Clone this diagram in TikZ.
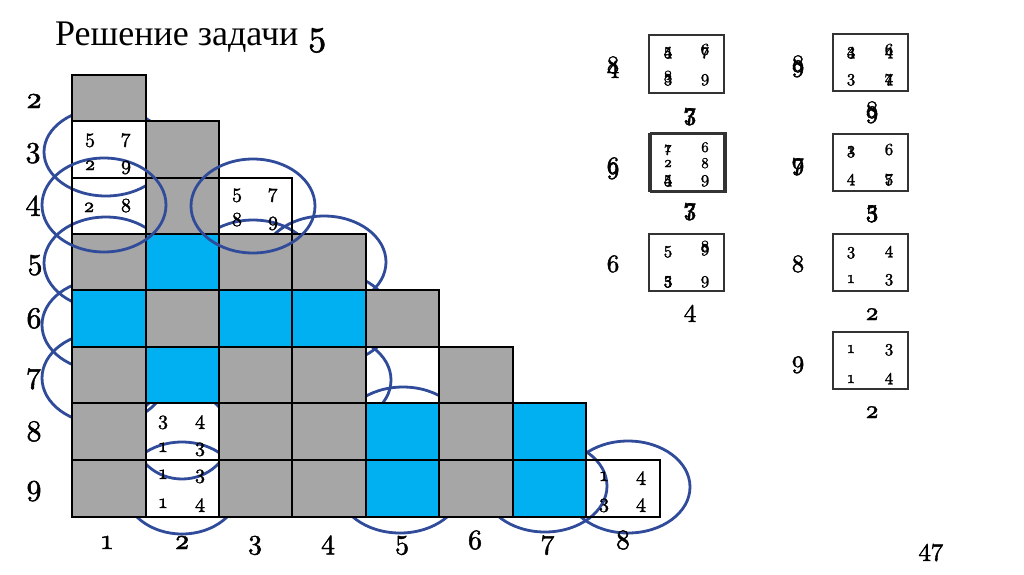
\documentclass[tikz,border=0pt]{standalone}
\usepackage{fontspec}
\setmainfont{Liberation Serif}
\newfontfamily\osf{lmroman10-regular.otf}[Numbers=OldStyle,FakeBold=1.6,AutoFakeBold=1.6]
\definecolor{cgray}{HTML}{A6A6A6}
\definecolor{cblue}{HTML}{00B0F0}
\definecolor{cring}{HTML}{2F4B9A}
\definecolor{cbox}{HTML}{333333}
\newcommand\ovl[2]{\makebox[0pt]{#1}\makebox[0pt]{#2}}
\tikzset{
  gfill/.style={fill=cgray},
  bfill/.style={fill=cblue},
  cellline/.style={draw=black,line width=1.3pt},
  ring/.style={draw=cring,line width=2.8pt},
  cd/.style={font=\osf\bfseries\fontsize{20pt}{20pt}\selectfont,anchor=base,inner sep=0pt},
  bd/.style={font=\osf\fontsize{17pt}{17pt}\selectfont,anchor=base,inner sep=0pt},
  bds/.style={font=\osf\fontsize{15pt}{15pt}\selectfont,anchor=base,inner sep=0pt},
  lab/.style={font=\osf\bfseries\fontsize{30pt}{30pt}\selectfont,anchor=base,inner sep=0pt},
  clab/.style={font=\osf\bfseries\fontsize{28pt}{28pt}\selectfont,anchor=base,inner sep=0pt},
  blab/.style={font=\osf\bfseries\fontsize{25pt}{25pt}\selectfont,anchor=base,inner sep=0pt},
  boxline/.style={draw=cbox,line width=1.4pt},
}
\begin{document}
\begin{tikzpicture}[x=1pt,y=-1pt]
\useasboundingbox (0,0) rectangle (1024,574);
\fill[white] (0,0) rectangle (1024,574);

% title
\node[anchor=base west,inner sep=0pt,font=\fontsize{36pt}{36pt}\selectfont] (title) at (55,45) {Решение задачи {\osf 5}};

% rings behind the cells
\draw[ring] (106,152) ellipse [x radius=62pt, y radius=44pt];
\draw[ring] (106,263) ellipse [x radius=62pt, y radius=46pt];
\draw[ring] (104,325) ellipse [x radius=62pt, y radius=46pt];
\draw[ring] (104,378) ellipse [x radius=62pt, y radius=46pt];
\draw[ring] (253,266) ellipse [x radius=62pt, y radius=46pt];
\draw[ring] (324,262) ellipse [x radius=62pt, y radius=46pt];
\draw[ring] (329,318) ellipse [x radius=62pt, y radius=46pt];
\draw[ring] (329,380) ellipse [x radius=62pt, y radius=46pt];
\draw[ring] (403,433) ellipse [x radius=62pt, y radius=46pt];
\draw[ring] (400,487) ellipse [x radius=62pt, y radius=46pt];
\draw[ring] (545,486) ellipse [x radius=62pt, y radius=46pt];
\draw[ring] (628,487) ellipse [x radius=62pt, y radius=46pt];
\draw[ring] (182,435) ellipse [x radius=48pt, y radius=44pt];
\draw[ring] (182,488) ellipse [x radius=58pt, y radius=46pt];

% cell fills
\fill[gfill] (72,75) rectangle (146,121);
\fill[gfill] (146,121) rectangle (219,178);
\fill[gfill] (146,178) rectangle (219,234);
\fill[gfill] (72,234) rectangle (146,290);
\fill[bfill] (146,234) rectangle (219,290);
\fill[gfill] (219,234) rectangle (292,290);
\fill[gfill] (292,234) rectangle (366,290);
\fill[bfill] (72,290) rectangle (146,347);
\fill[gfill] (146,290) rectangle (219,347);
\fill[bfill] (219,290) rectangle (292,347);
\fill[bfill] (292,290) rectangle (366,347);
\fill[gfill] (366,290) rectangle (439,347);
\fill[gfill] (72,347) rectangle (146,403);
\fill[bfill] (146,347) rectangle (219,403);
\fill[gfill] (219,347) rectangle (292,403);
\fill[gfill] (292,347) rectangle (366,403);
\fill[gfill] (439,347) rectangle (513,403);
\fill[gfill] (72,403) rectangle (146,460);
\fill[gfill] (219,403) rectangle (292,460);
\fill[gfill] (292,403) rectangle (366,460);
\fill[bfill] (366,403) rectangle (439,460);
\fill[gfill] (439,403) rectangle (513,460);
\fill[bfill] (513,403) rectangle (586,460);
\fill[gfill] (72,460) rectangle (146,517);
\fill[gfill] (219,460) rectangle (292,517);
\fill[gfill] (292,460) rectangle (366,517);
\fill[bfill] (366,460) rectangle (439,517);
\fill[gfill] (439,460) rectangle (513,517);
\fill[bfill] (513,460) rectangle (586,517);

% cell outlines
\draw[cellline] (72,75) rectangle (146,121);
\foreach \xa/\xb in {72/146,146/219} \draw[cellline] (\xa,121) rectangle (\xb,178);
\foreach \xa/\xb in {72/146,146/219,219/292} \draw[cellline] (\xa,178) rectangle (\xb,234);
\foreach \xa/\xb in {72/146,146/219,219/292,292/366} \draw[cellline] (\xa,234) rectangle (\xb,290);
\foreach \xa/\xb in {72/146,146/219,219/292,292/366,366/439} \draw[cellline] (\xa,290) rectangle (\xb,347);
\foreach \xa/\xb in {72/146,146/219,219/292,292/366,366/439,439/513} \draw[cellline] (\xa,347) rectangle (\xb,403);
\foreach \xa/\xb in {72/146,146/219,219/292,292/366,366/439,439/513,513/586} \draw[cellline] (\xa,403) rectangle (\xb,460);
\foreach \xa/\xb in {72/146,146/219,219/292,292/366,366/439,439/513,513/586,586/660} \draw[cellline] (\xa,460) rectangle (\xb,517);
\draw[black,line width=2.2pt] (72,517) -- (660,517);

% rings on top
\draw[ring] (104,205) ellipse [x radius=62pt, y radius=47pt];
\draw[ring] (253,206) ellipse [x radius=62pt, y radius=47pt];

% digits in cells
\node[cd] (a1) at (90,143) {5};  \node[cd] (a2) at (126,143) {7};
\node[cd] (a3) at (90,170) {2};  \node[cd] (a4) at (126,170) {9};
\node[cd] (b1) at (89,212) {2};  \node[cd] (b2) at (126,212) {8};
\node[cd] (c1) at (237,198) {5}; \node[cd] (c2) at (273,198) {7};
\node[cd] (c3) at (237,226) {8}; \node[cd] (c4) at (273,226) {9};
\node[cd] (d1) at (163,425) {3}; \node[cd] (d2) at (200,425) {4};
\node[cd] (d3) at (163,452) {1}; \node[cd] (d4) at (200,452) {3};
\node[cd] (e1) at (163,479) {1}; \node[cd] (e2) at (200,479) {3};
\node[cd] (e3) at (163,508) {1}; \node[cd] (e4) at (200,508) {4};
\node[cd] (f1) at (604,481) {1}; \node[cd] (f2) at (641,481) {4};
\node[cd] (f3) at (604,508) {3}; \node[cd] (f4) at (641,508) {4};

% row labels
\node[lab] (r2) at (34,108) {2};
\node[lab] (r3) at (33,157) {3};
\node[lab] (r4) at (33,210) {4};
\node[lab] (r5) at (35,269) {5};
\node[lab] (r6) at (34,328) {6};
\node[lab] (r7) at (34,383) {7};
\node[lab] (r8) at (34,441) {8};
\node[lab] (r9) at (34,495) {9};

% column labels
\node[clab] (k1) at (107,549) {1};
\node[clab] (k2) at (182,549) {2};
\node[clab] (k3) at (255,549) {3};
\node[clab] (k4) at (328,549) {4};
\node[clab] (k5) at (402,549) {5};
\node[clab] (k6) at (475,549) {6};
\node[clab] (k7) at (548,549) {7};
\node[clab] (k8) at (623,549) {8};

% right side boxes, left column
\draw[boxline] (649,35) rectangle (724,93);
\node[bd] (ba1) at (668,55) {\ovl{5}{4}};  \node[bd] (ba2) at (705,55) {\ovl{6}{7}};
\node[bd] (ba3) at (668,82) {\ovl{8}{3}};  \node[bd] (ba4) at (705,82) {9};
\node[blab] (bal) at (613,73) {\ovl{8}{4}};
\node[blab] (bab) at (690,120) {\ovl{7}{3}};

\draw[boxline] (649,134) rectangle (724,191);
\draw[boxline] (651,133) rectangle (726,192);
\node[bds] (bb1) at (668,152) {\ovl{7}{1}};  \node[bds] (bb2) at (705,152) {6};
\node[bds] (bb5) at (668,167) {2};           \node[bds] (bb6) at (705,168) {8};
\node[bd] (bb3) at (668,183) {\ovl{4}{5}};  \node[bd] (bb4) at (705,183) {9};
\node[blab] (bbl) at (613,174) {\ovl{6}{9}};
\node[blab] (bbb) at (690,215) {\ovl{7}{3}};

\draw[boxline] (649,234) rectangle (724,291);
\node[bd] (bc1) at (668,254) {5};           \node[bd] (bc2) at (705,252) {\ovl{8}{9}};
\node[bd] (bc3) at (668,284) {\ovl{5}{3}};  \node[bd] (bc4) at (705,284) {9};
\node[blab] (bcl) at (613,272) {6};
\node[blab] (bcb) at (690,317) {4};

% right side boxes, right column
\draw[boxline] (833,34) rectangle (908,91);
\node[bd] (bd1) at (851,55) {\ovl{3}{4}};  \node[bd] (bd2) at (889,55) {\ovl{6}{4}};
\node[bd] (bd3) at (851,82) {3};           \node[bd] (bd4) at (889,82) {\ovl{4}{7}};
\node[blab] (bdl) at (798,72) {\ovl{8}{9}};
\node[blab] (bdb) at (872,118) {\ovl{8}{9}};

\draw[boxline] (833,134) rectangle (908,191);
\node[bd] (be1) at (851,154) {\ovl{1}{3}};  \node[bd] (be2) at (889,155) {6};
\node[bd] (be3) at (851,182) {4};           \node[bd] (be4) at (889,182) {\ovl{5}{7}};
\node[blab] (bel) at (798,170) {\ovl{7}{9}};
\node[blab] (beb) at (872,217) {\ovl{5}{3}};

\draw[boxline] (833,234) rectangle (908,291);
\node[bd] (bf1) at (851,255) {3};  \node[bd] (bf2) at (889,254) {4};
\node[bd] (bf3) at (851,283) {1};  \node[bd] (bf4) at (889,282) {3};
\node[blab] (bfl) at (798,272) {8};
\node[blab] (bfb) at (872,320) {2};

\draw[boxline] (833,332) rectangle (908,389);
\node[bd] (bg1) at (851,353) {1};  \node[bd] (bg2) at (889,352) {3};
\node[bd] (bg3) at (851,383) {1};  \node[bd] (bg4) at (889,381) {4};
\node[blab] (bgl) at (798,368) {9};
\node[blab] (bgb) at (872,418) {2};

% page number
\node[blab] (pg) at (931,556) {47};
\end{tikzpicture}
\end{document}
